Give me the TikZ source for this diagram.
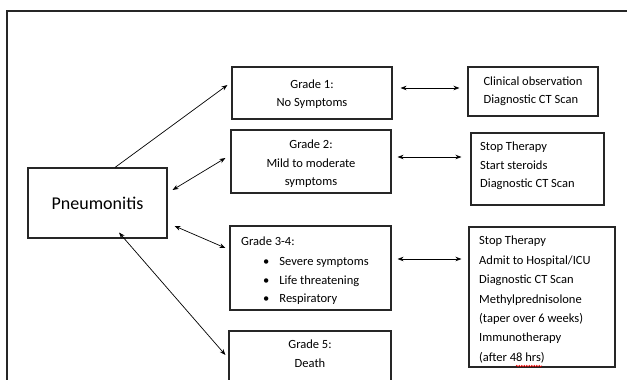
\documentclass[tikz,border=0pt]{standalone}
\usepackage{fontspec}
\setmainfont{Carlito}
\usetikzlibrary{arrows.meta,calc,decorations.pathmorphing}

\begin{document}
\begin{tikzpicture}[x=1pt, y=1pt,
	box/.style={shape=rectangle, draw=black!85, line width=1.1pt},
	txt/.style={font=\fontsize{12.5}{18.5}\selectfont, inner sep=0pt},
	one/.style={line width=0.7pt, -{Stealth[length=6pt,width=4.5pt]}},
	both/.style={line width=0.7pt, {Stealth[length=6pt,width=4.5pt]}-{Stealth[length=6pt,width=4.5pt]}}]
	\clip (0,0) rectangle (627,380);
	\fill[white] (0,0) rectangle (627,380);
	\draw[line width=1.4pt, black!85] (7,-20) -- (7,369) -- (640,369);
	% Paths, nodes and wires:
	\node[box, minimum width=139pt, minimum height=70pt] (pneu) at (97.5,177){} node[anchor=center, font=\fontsize{18}{22}\selectfont] at (97.5,177){Pneumonitis};
	\node[box, minimum width=160pt, minimum height=52pt] (g1) at (312,287){} node[txt, anchor=center, align=center] at (312,286){Grade 1:\\No Symptoms};
	\node[box, minimum width=160pt, minimum height=63pt] (g2) at (311,218.5){} node[txt, anchor=north, align=center] at (311,240){Grade 2:\\Mild to moderate\\symptoms};
	\node[box, minimum width=161pt, minimum height=84pt] (g34) at (310.5,112){} node[txt, anchor=north west, align=left] at (241,143){Grade 3-4:\\[1.5pt]\hspace*{22pt}\textbullet\hspace{10pt}Severe symptoms\\\hspace*{22pt}\textbullet\hspace{10pt}Life threatening\\\hspace*{22pt}\textbullet\hspace{10pt}Respiratory};
	\node[box, minimum width=162pt, minimum height=64pt] (g5) at (310,17){} node[txt, anchor=north, align=center] at (310,40){Grade 5:\\Death};
	\node[box, minimum width=130pt, minimum height=49pt] (t1) at (533,288.5){} node[txt, anchor=center, align=left] at (533,289){Clinical observation\\Diagnostic CT Scan};
	\node[box, minimum width=133pt, minimum height=72pt] (t2) at (537.5,211){} node[txt, anchor=north west, align=left] at (480,238){Stop Therapy\\Start steroids\\Diagnostic CT Scan};
	\node[box, minimum width=146pt, minimum height=140pt] (t34) at (542,83){} node[txt, anchor=north west, align=left, font=\fontsize{12.5}{19.4}\selectfont] (t34txt) at (479,144){Stop Therapy\\Admit to Hospital/ICU\\Diagnostic CT Scan\\Methylprednisolone\\(taper over 6 weeks)\\Immunotherapy\\(after 48 hrs)};
	\draw[red, line width=0.5pt, decorate, decoration={snake, amplitude=0.7pt, segment length=2.5pt}] (516,14) -- (542,14);
	\draw[one] ($(pneu.north)+(17.5,0)$) -- ($(g1.west)+(-4,8)$);
	\draw[both] ($(pneu.east)+(5,13)$) -- ($(g2.west)+(-5,3.5)$);
	\draw[both] ($(pneu.east)+(7,-23)$) -- ($(g34.west)+(-4,20)$);
	\draw[both] ($(pneu.south)+(21.5,6)$) -- ($(g5.west)+(-3,8)$);
	\draw[both] ($(g1.east)+(8,5)$) -- ($(t1.west)+(-8,3.5)$);
	\draw[both] ($(g2.east)+(6,4.5)$) -- ($(t2.west)+(-9,12)$);
	\draw[both] ($(g34.east)+(6,9)$) -- ($(t34.west)+(-7,38)$);
\end{tikzpicture}
\end{document}
